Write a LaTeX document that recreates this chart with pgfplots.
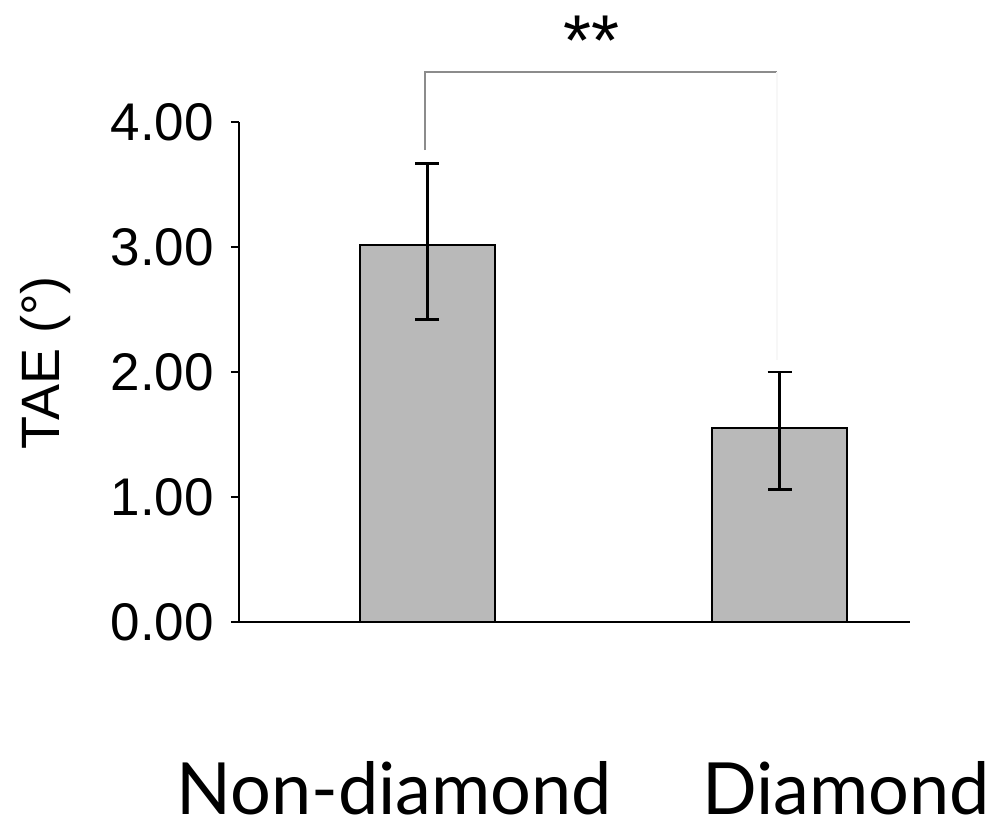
\documentclass[border=0pt]{standalone}
\usepackage{fontspec}
\setmainfont{Liberation Sans}
\newfontfamily\catfont{Lato}
\usepackage{pgfplots}
\pgfplotsset{compat=1.18}
\usetikzlibrary{calc}

\definecolor{barfill}{RGB}{185,185,185}
\definecolor{bracket}{RGB}{140,140,140}

\begin{document}
\begin{tikzpicture}
\begin{axis}[
  name=ax,
  at={(0,0)}, anchor=south west,
  scale only axis,
  width=335.5pt, height=250pt,
  xmin=0.4645, xmax=2.3707,
  ymin=0, ymax=4,
  clip=false,
  axis x line=bottom, axis y line=left,
  axis line style={-, line width=1pt, black},
  ytick={0,1,2,3,4},
  tick align=outside,
  major tick length=4pt,
  ytick style={line width=1pt, black},
  yticklabel style={/pgf/number format/.cd, fixed, fixed zerofill, precision=2,
    /tikz/.cd, xshift=-5pt},
  /pgf/number format/assume math mode=true,
  tick label style={font=\fontsize{26.5}{30}\selectfont},
  xtick={0.905,2.189},
  xticklabels={Non-diamond, Diamond},
  x tick style={draw=none},
  xticklabel style={anchor=base, inner sep=0pt, yshift=-92pt,
    font=\catfont\fontsize{36}{40}\selectfont},
  ylabel={TAE (°)},
  ylabel style={at={(axis description cs:-0.267,0.518)}, rotate=0, anchor=base,
    font=\fontsize{27}{30}\selectfont},
]
\addplot[ybar, bar width=67.5pt, fill=barfill, draw=black, line width=1pt,
  error bars/.cd, y dir=both, y explicit,
  error bar style={line width=1.25pt, black},
  error mark options={rotate=90, mark size=6pt, line width=1.25pt, black}]
  coordinates {
    (1,3.02) += (0,0.65) -= (0,0.60)
    (2,1.55) += (0,0.45) -= (0,0.49)
  };
% significance bracket between the two groups
\draw[bracket, line width=1pt]
  (axis cs:0.993,3.776) -- (axis cs:0.993,4.4) -- (axis cs:1.992,4.4);
\draw[black!3, line width=1pt] (axis cs:1.992,4.4) -- (axis cs:1.992,2.1);
\node[anchor=base, font=\fontsize{36}{40}\selectfont] at (axis cs:1.467,4.45) {**};
\end{axis}
\pgfresetboundingbox
\path ($(ax.south west)+(-119.5pt,-99pt)$) rectangle ($(ax.south west)+(379.5pt,311pt)$);
\end{tikzpicture}
\end{document}
